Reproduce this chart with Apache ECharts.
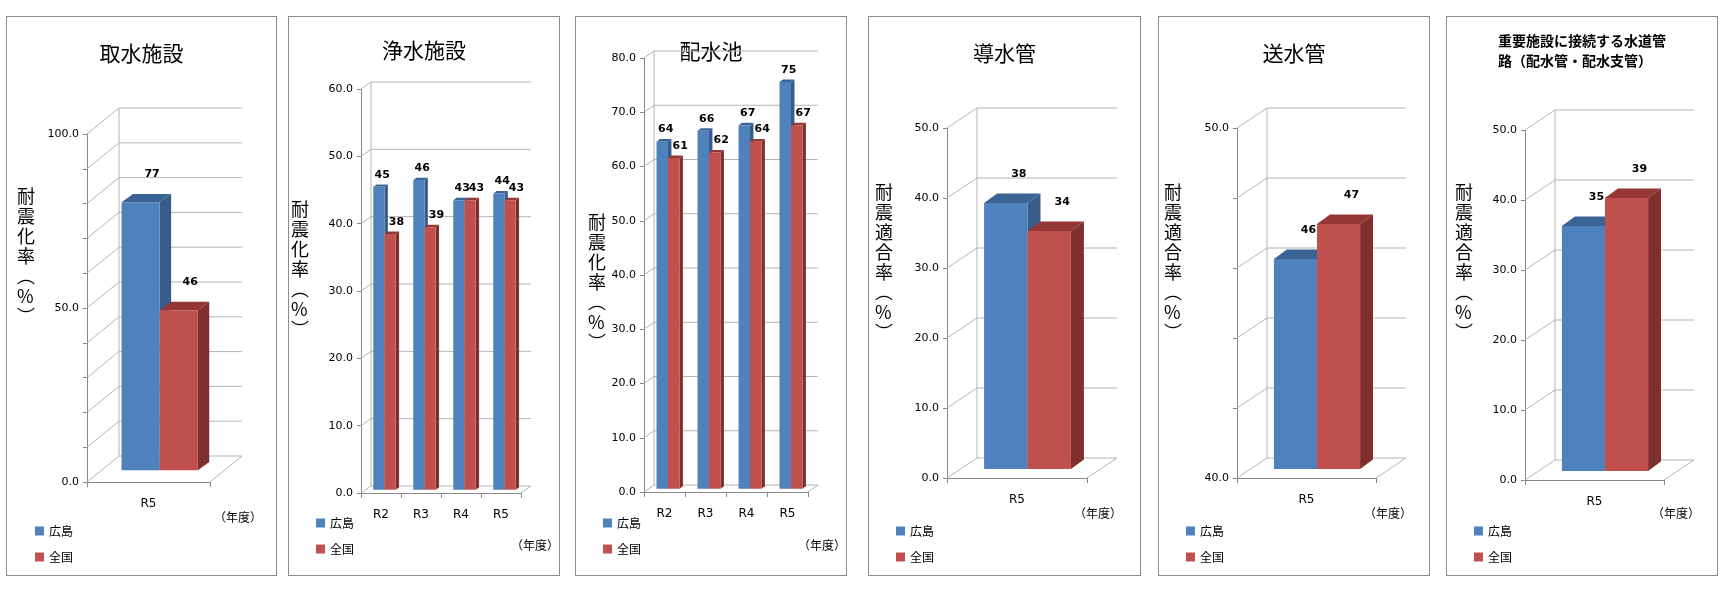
<!DOCTYPE html>
<html><head><meta charset="utf-8">
<script src="https://cdn.jsdelivr.net/npm/echarts@6/dist/echarts.min.js"></script>
<style>
body{margin:0;background:#fff;width:1729px;height:595px;position:relative;overflow:hidden}
.p{position:absolute;border:1px solid #8c8c8c;box-sizing:border-box;background:#fff}
</style></head><body>
<script>
// ---- data ----
const titles = ['取水施設','浄水施設','配水池','導水管','送水管','重要施設に接続する水道管\n路（配水管・配水支管）'];
const cats1 = ['R5'];
const cats4 = ['R2','R3','R4','R5'];
const hiroshima1 = [77], zenkoku1 = [46];
const hiroshima2 = [45,46,43,44], zenkoku2 = [38,39,43,43];
const hiroshima3 = [64,66,67,75], zenkoku3 = [61,62,64,67];
const hiroshima4 = [38], zenkoku4 = [34];
const hiroshima5 = [46], zenkoku5 = [47];
const hiroshima6 = [35], zenkoku6 = [39];
const yNames = ['耐震化率','耐震化率','耐震化率','耐震適合率','耐震適合率','耐震適合率'];
const shownTicks1 = [0,50,100];
const shownTicks5 = [40,50];
const seriesNames = ['広島','全国'];

// ---- layout ----
const panels = [
 {x:6,w:271,cats:cats1,h:hiroshima1,z:zenkoku1,min:0,max:100,iv:10,show:shownTicks1,L:80,R:66,T:117,B:93,dx:32,dy:26,frac:0.31,tY:35,nX:19,nY:241,legY:508,legX:28,yrX:207,yrY:494},
 {x:288,w:272,cats:cats4,h:hiroshima2,z:zenkoku2,min:0,max:60,iv:10,show:null,L:72,R:38,T:72,B:82,dx:10,dy:7,frac:0.28,tY:32,nX:11,nY:254,legY:500,legX:27,yrX:222,yrY:522},
 {x:575,w:272,cats:cats4,h:hiroshima3,z:zenkoku3,min:0,max:80,iv:10,show:null,L:68,R:38,T:41,B:83,dx:10,dy:7,frac:0.28,tY:33,nX:21,nY:267,legY:500,legX:27,yrX:222,yrY:522},
 {x:868,w:273,cats:cats1,h:hiroshima4,z:zenkoku4,min:0,max:50,iv:10,show:null,L:78,R:53,T:111,B:97,dx:30,dy:20,frac:0.31,tY:35,nX:15,nY:237,legY:508,legX:27,yrX:205,yrY:490},
 {x:1158,w:272,cats:cats1,h:hiroshima5,z:zenkoku5,min:40,max:50,iv:2,show:shownTicks5,L:78,R:53,T:111,B:97,dx:30,dy:20,frac:0.31,tY:35,nX:14,nY:237,legY:508,legX:27,yrX:205,yrY:490},
 {x:1446,w:272,cats:cats1,h:hiroshima6,z:zenkoku6,min:0,max:50,iv:10,show:null,L:78,R:53,T:113,B:95,dx:30,dy:20,frac:0.31,tY:22,nX:17,nY:237,legY:508,legX:27,yrX:205,yrY:490,small:true}
];
const COLORS = [{f:'#4F81BD',s:'#385D8A',t:'#3B6496'},{f:'#C0504D',s:'#7F302E',t:'#943634'}];
const FONT = '"Noto Sans CJK JP", sans-serif';

panels.forEach((p,pi)=>{
  const d = document.createElement('div');
  d.className='p';
  d.style.left=p.x+'px'; d.style.top='16px'; d.style.width=p.w+'px'; d.style.height='560px';
  document.body.appendChild(d);
  const c = echarts.init(d);
  const ticks=[]; for(let v=p.min; v<=p.max+1e-9; v+=p.iv) ticks.push(v);
  const wall = {
    type:'custom', silent:true, z:1, data:ticks.map(v=>[0,v]),
    renderItem:(params,api)=>{
      const cs=params.coordSys; const y=api.coord([0,api.value(1)])[1];
      const x0=cs.x, x1=cs.x+cs.width;
      const ch=[{type:'polyline',shape:{points:[[x0,y],[x0+p.dx,y-p.dy],[x1+p.dx,y-p.dy]]},style:{stroke:'#b4b4b4',lineWidth:1,fill:null}}];
      if(params.dataIndex===0){
        ch.push({type:'line',shape:{x1:x0+p.dx,y1:y-p.dy,x2:x0+p.dx,y2:cs.y-p.dy},style:{stroke:'#b4b4b4',lineWidth:1}});
        ch.push({type:'line',shape:{x1:x1,y1:y,x2:x1+p.dx,y2:y-p.dy},style:{stroke:'#b4b4b4',lineWidth:1}});
      }
      return {type:'group',children:ch};
    }
  };
  const mk=(vals,k)=>({
    type:'custom', name:seriesNames[k], z:3+k, itemStyle:{color:COLORS[k].f},
    data:vals.map((v,i)=>[i,v]),
    renderItem:(params,api)=>{
      const i=api.value(0), v=api.value(1);
      const band=api.size([1,0])[0], bw=band*p.frac;
      const cx=api.coord([i,v])[0]+p.dx*0.35;
      const top=api.coord([i,v])[1]-p.dy*0.45, base=api.coord([i,p.min])[1]-p.dy*0.45;
      const x0=cx-bw+k*bw, dd=bw*0.3, dh=bw*0.22;
      const col=COLORS[k];
      return {type:'group',children:[
        {type:'polygon',shape:{points:[[x0+bw,top],[x0+bw+dd,top-dh],[x0+bw+dd,base-dh],[x0+bw,base]]},style:{fill:col.s}},
        {type:'polygon',shape:{points:[[x0,top],[x0+dd,top-dh],[x0+bw+dd,top-dh],[x0+bw,top]]},style:{fill:col.t}},
        {type:'rect',shape:{x:x0,y:top,width:bw,height:base-top},style:{fill:col.f}},
        {type:'text',style:{text:String(v),x:x0+bw/2+dd+(p.dy<15?k*3:0),y:top-dh-(p.dy>15?14:4),align:'center',verticalAlign:'bottom',font:'bold 11px "DejaVu Sans", sans-serif',fill:'#000'}}
      ]};
    }
  });
  const nameChars = yNames[pi].split('').concat(['︵','%','︶']).join('\n');
  c.setOption({
    animation:false,
    grid:{left:p.L,right:p.R,top:p.T,bottom:p.B},
    xAxis:{type:'category',data:p.cats,axisLine:{lineStyle:{color:'#888'}},axisTick:{show:true,length:5,lineStyle:{color:'#888'}},
      axisLabel:{color:'#000',fontSize:12,margin:16,fontFamily:'"DejaVu Sans", sans-serif'}},
    yAxis:{type:'value',min:p.min,max:p.max,interval:p.iv,splitLine:{show:false},
      axisLine:{show:true,lineStyle:{color:'#888'}},axisTick:{show:true,length:4,lineStyle:{color:'#888'}},
      axisLabel:{color:'#000',fontSize:11,fontFamily:'"DejaVu Sans", sans-serif',
        formatter:v=>(p.show && !p.show.includes(v))?'':v.toFixed(1)}},
    legend:{orient:'vertical',left:p.legX,top:p.legY,padding:0,itemWidth:9,itemHeight:9,itemGap:14,icon:'rect',
      textStyle:{fontSize:12,fontFamily:FONT,color:'#000'},data:seriesNames},
    graphic:[
      {type:'text',left:'center',top:p.small?p.tY-8:p.tY-12,style:{text:titles[pi],font:p.small?'bold 14px '+FONT:'21px '+FONT,fill:'#000',align:'center',lineHeight:p.small?20:26}},
      {type:'text',left:p.nX-9,top:p.nY-72,style:{text:nameChars,font:'18px '+FONT,fill:'#000',lineHeight:20,align:'center'}},
      {type:'text',left:p.yrX,top:p.yrY,style:{text:'（年度）',font:'12px '+FONT,fill:'#000'}}
    ],
    series:[wall,mk(p.h,0),mk(p.z,1)]
  });
});
</script></body></html>
